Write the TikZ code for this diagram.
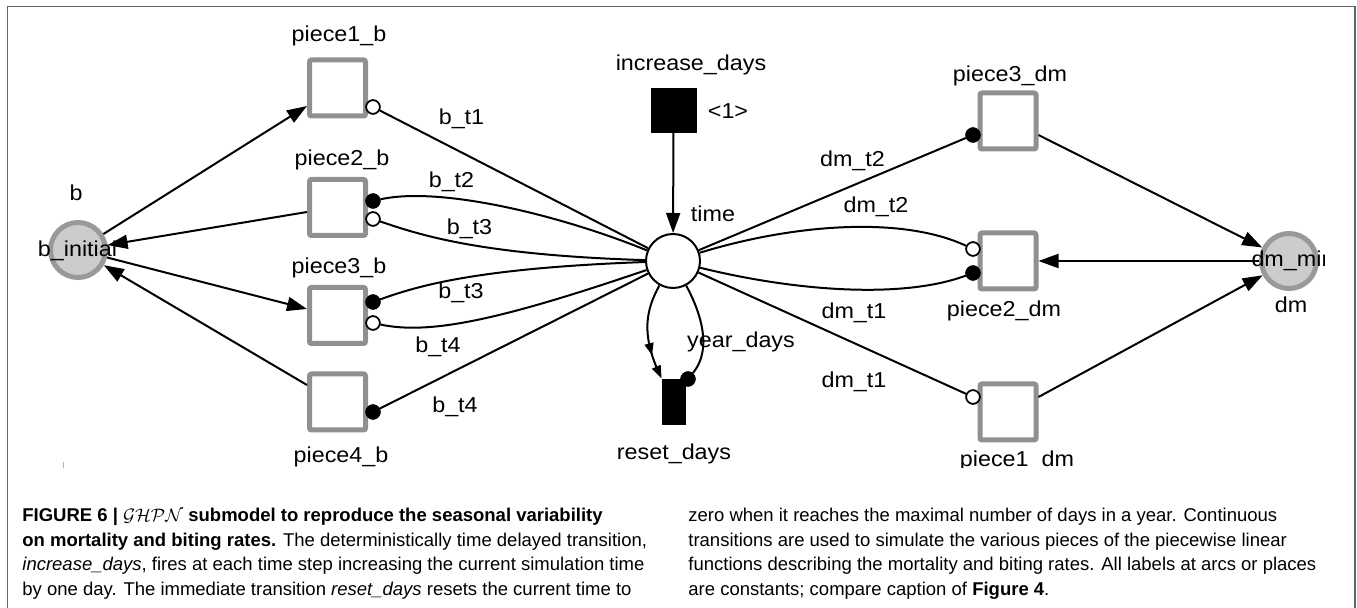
\documentclass[tikz,border=0pt]{standalone}
\usepackage{fontspec}
\setmainfont{Liberation Sans}
\newfontfamily\labfont[FakeStretch=1.08]{Liberation Sans}
\newfontfamily\capfont{Liberation Sans}
\usetikzlibrary{arrows.meta,bending}
\definecolor{trgray}{HTML}{909090}
\definecolor{plfill}{HTML}{CCCCCC}
\definecolor{plline}{HTML}{999999}
\definecolor{framec}{HTML}{666666}
\begin{document}
\begin{tikzpicture}[x=0.5pt,y=-0.5pt,
  lab/.style={font=\labfont\fontsize{10.8}{12}\selectfont, inner sep=0pt, anchor=base},
  trans/.style={draw=trgray, line width=2.5pt, fill=white, minimum size=28pt, inner sep=0pt, rounded corners=1pt},
  place/.style={circle, draw=plline, line width=2.5pt, fill=plfill, minimum size=27.5pt, inner sep=0pt},
  timeplace/.style={circle, draw=black, line width=1pt, fill=white, minimum size=27pt, inner sep=0pt},
  imm/.style={fill=black, draw=black, inner sep=0pt},
  omark/.style={circle, draw=black, fill=white, line width=0.8pt, minimum size=6.8pt, inner sep=0pt},
  fmark/.style={circle, draw=black, fill=black, line width=0.8pt, minimum size=6.8pt, inner sep=0pt},
  arc/.style={draw=black, line width=1pt},
  arr/.style={arc, -{Triangle[length=10pt,width=7pt]}},
  resetarr/.style={arc, -{Triangle[length=6pt,width=4.5pt,sep=6.5pt,flex]Triangle[length=6.5pt,width=4.5pt,flex]}},
  captxt/.style={font=\capfont\fontsize{9.25}{11}\selectfont, anchor=base west, inner sep=0pt},
]
\useasboundingbox (0,0) rectangle (1357,608);
\fill[white] (0,0) rectangle (1357,608);
% frame
\draw[framec, line width=0.6pt] (7.5,608) -- (7.5,6.5) -- (1355,6.5) -- (1355,608);
\draw[gray!60, line width=0.5pt] (63,462) -- (63,468);

\begin{scope}
\clip (0,0) rectangle (1357,468);
% places
\node[place] (b) at (78,250) {};
\node[lab] (blab) at (77.5,257) {b\_initial};
\node[place] (dm) at (1289,261) {};
\begin{scope}
\clip (1230,230) rectangle (1324,290);
\node[lab] (dmlab) at (1293,267) {dm\_min};
\end{scope}
\node[timeplace] (time) at (673,261) {};

% transitions
\node[trans] (p1b) at (337.5,88) {};
\node[trans] (p2b) at (337.5,207.5) {};
\node[trans] (p3b) at (337.5,315.5) {};
\node[trans] (p4b) at (337.5,402) {};
\node[trans] (p3dm) at (1008,121) {};
\node[trans] (p2dm) at (1008,261) {};
\node[trans] (p1dm) at (1008,412) {};
\node[imm, minimum width=22.5pt, minimum height=22pt] (inc) at (673.5,110) {};
\node[imm, minimum width=11.5pt, minimum height=22.5pt] (reset) at (673.5,401.5) {};

% markers
\node[omark] (m1) at (373,107) {};
\node[fmark] (m2f) at (373,201) {};
\node[omark] (m2o) at (373,219) {};
\node[fmark] (m3f) at (373,302) {};
\node[omark] (m3o) at (373,323) {};
\node[fmark] (m4f) at (373,412) {};
\node[fmark] (m5f) at (973,135) {};
\node[omark] (m6o) at (973,249) {};
\node[fmark] (m6f) at (973,273) {};
\node[omark] (m7o) at (973,397) {};
\node[fmark] (rm) at (688,379) {};

% test arcs (b side)
\draw[arc] (m1) -- (time);
\draw[arc] (m2f) .. controls (440,186) and (560,215) .. (time);
\draw[arc] (m2o) .. controls (420,235) and (480,255) .. (time);
\draw[arc] (m3f) .. controls (420,285) and (480,268) .. (time);
\draw[arc] (m3o) .. controls (430,335) and (500,320) .. (time);
\draw[arc] (m4f) -- (time);
% test arcs (dm side)
\draw[arc] (m5f) -- (time);
\draw[arc] (time) .. controls (790,225) and (900,215) .. (m6o);
\draw[arc] (time) .. controls (790,290) and (900,300) .. (m6f);
\draw[arc] (m7o) -- (time);
% read arc and reset arc
\draw[arc] (time) .. controls (702,315) and (712,350) .. (rm);
\draw[resetarr] (time) .. controls (643,315) and (643,340) .. (reset.north west);

% redraw markers on top
\node[omark] at (m1) {};
\node[fmark] at (m2f) {};
\node[omark] at (m2o) {};
\node[fmark] at (m3f) {};
\node[omark] at (m3o) {};
\node[fmark] at (m4f) {};
\node[fmark] at (m5f) {};
\node[omark] at (m6o) {};
\node[fmark] at (m6f) {};
\node[omark] at (m7o) {};
\node[fmark] at (rm) {};

% flow arcs
\draw[arr] (b) -- ([yshift=-9pt]p1b.west);
\draw[arr] ([yshift=-2.25pt]p2b.west) -- (b);
\draw[arr] (b) -- ([yshift=3.25pt]p3b.west);
\draw[arr] ([yshift=8.5pt]p4b.west) -- (b);
\draw[arr] ([yshift=-7pt]p3dm.east) -- (dm);
\draw[arr] (dm) -- (p2dm.east);
\draw[arr] ([yshift=7.5pt]p1dm.east) -- (dm);
\draw[arr] (inc) -- (time);

% node labels
\node[lab] (l1) at (339,42) {piece1\_b};
\node[lab] (l2) at (342,166) {piece2\_b};
\node[lab] (l3) at (339,274) {piece3\_b};
\node[lab] (l4) at (341,463) {piece4\_b};
\node[lab] (lb) at (76,201) {b};
\node[lab] (linc) at (691,71) {increase\_days};
\node[lab] (lone) at (728,119) {<1>};
\node[lab] (ltime) at (713,222) {time};
\node[lab] (lyear) at (741,348) {year\_days};
\node[lab] (lreset) at (674,460) {reset\_days};
\node[lab] (l3dm) at (1010,82) {piece3\_dm};
\node[lab] (l2dm) at (1004,317) {piece2\_dm};
\node[lab] (l1dm) at (1017,466.5) {piece1\_dm};
\node[lab] (ldm) at (1291,313) {dm};
% arc labels
\node[lab] (a1) at (461.5,125) {b\_t1};
\node[lab] (a2) at (451.5,188) {b\_t2};
\node[lab] (a3) at (469.5,235) {b\_t3};
\node[lab] (a4) at (461,299) {b\_t3};
\node[lab] (a5) at (438,353) {b\_t4};
\node[lab] (a6) at (455,413) {b\_t4};
\node[lab] (a7) at (852.5,167) {dm\_t2};
\node[lab] (a8) at (876,213) {dm\_t2};
\node[lab] (a9) at (854,319) {dm\_t1};
\node[lab] (a10) at (854,388) {dm\_t1};
\end{scope}

% caption
\node[captxt] (c1) at (22,522) {\textbf{FIGURE 6 | }$\mathcal{GHPN}$\textbf{ submodel to reproduce the seasonal variability}};
\node[captxt] (c2) at (22,546.5) {\textbf{on mortality and biting rates.} The deterministically time delayed transition,};
\node[captxt] (c3) at (22,571) {\textit{increase\_days}, fires at each time step increasing the current simulation time};
\node[captxt] (c4) at (22,595.5) {by one day. The immediate transition \textit{reset\_days} resets the current time to};
\node[captxt] (c5) at (688,522) {zero when it reaches the maximal number of days in a year. Continuous};
\node[captxt] (c6) at (688,546.5) {transitions are used to simulate the various pieces of the piecewise linear};
\node[captxt] (c7) at (688,571) {functions describing the mortality and biting rates. All labels at arcs or places};
\node[captxt] (c8) at (688,595.5) {are constants; compare caption of \textbf{Figure 4}.};
\end{tikzpicture}
\end{document}
